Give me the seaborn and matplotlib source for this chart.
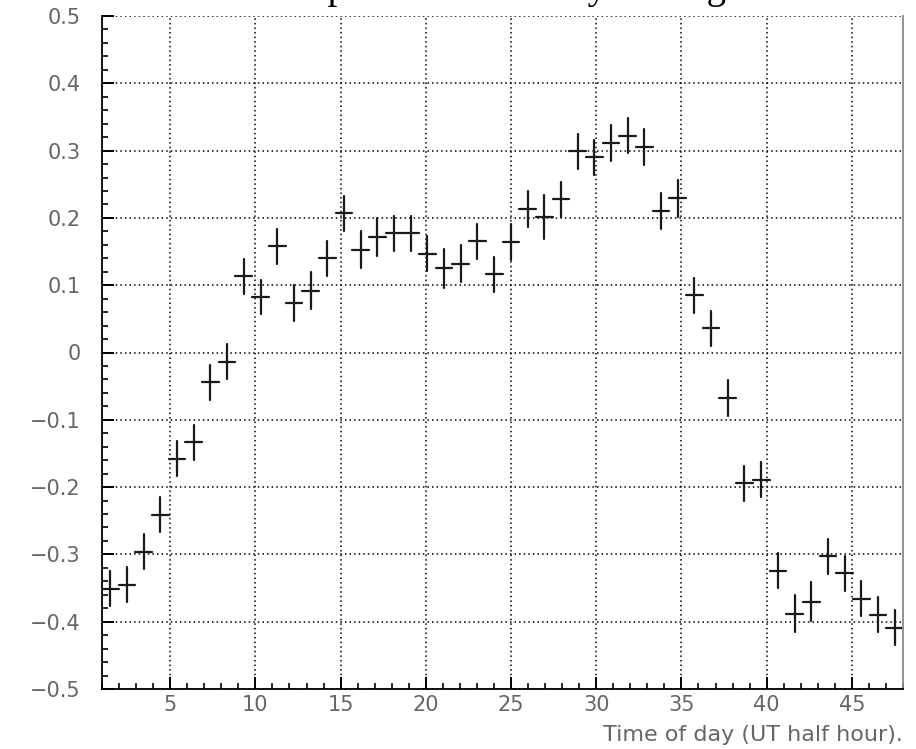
import numpy as np
import pandas as pd
import matplotlib
matplotlib.use("Agg")
import matplotlib.pyplot as plt
from matplotlib.ticker import MultipleLocator
import seaborn as sns
import seaborn.objects as so

# ---- data -------------------------------------------------------------
half_hour = list(range(1, 49))  # UT half-hour bins

asymmetry = [
    -0.351, -0.345, -0.296, -0.241, -0.158, -0.133, -0.044, -0.014,
    0.113, 0.082, 0.158, 0.074, 0.092, 0.140, 0.207, 0.153,
    0.172, 0.177, 0.177, 0.147, 0.125, 0.132, 0.165, 0.116,
    0.164, 0.213, 0.201, 0.228, 0.299, 0.290, 0.311, 0.322,
    0.305, 0.210, 0.229, 0.085, 0.036, -0.068, -0.194, -0.189,
    -0.324, -0.388, -0.370, -0.303, -0.328, -0.366, -0.390, -0.409,
]

asymmetry_err = [
    0.026, 0.026, 0.026, 0.026, 0.026, 0.026, 0.026, 0.026,
    0.026, 0.025, 0.026, 0.027, 0.027, 0.026, 0.026, 0.027,
    0.028, 0.026, 0.026, 0.026, 0.029, 0.027, 0.026, 0.026,
    0.027, 0.027, 0.033, 0.026, 0.026, 0.026, 0.027, 0.026,
    0.027, 0.027, 0.027, 0.026, 0.026, 0.027, 0.026, 0.026,
    0.026, 0.028, 0.029, 0.026, 0.026, 0.026, 0.026, 0.026,
]

x_ticks = [5, 10, 15, 20, 25, 30, 35, 40, 45]
x_tick_labels = ["5", "10", "15", "20", "25", "30", "35", "40", "45"]
y_ticks = [-0.5, -0.4, -0.3, -0.2, -0.1, 0.0, 0.1, 0.2, 0.3, 0.4, 0.5]
y_tick_labels = ["\u22120.5", "\u22120.4", "\u22120.3", "\u22120.2", "\u22120.1",
                 "0", "0.1", "0.2", "0.3", "0.4", "0.5"]

title_text = "Temperature Anomaly Average"
x_label = "Time of day (UT half hour)."

# ---- histogram binning: 48 bins spread over the axis range 1..48 -------
edges = np.linspace(1, 48, len(half_hour) + 1)
df = pd.DataFrame({
    "t": (edges[:-1] + edges[1:]) / 2,
    "t_lo": edges[:-1],
    "t_hi": edges[1:],
    "asym": asymmetry,
})
df["lo"] = df["asym"] - np.array(asymmetry_err)
df["hi"] = df["asym"] + np.array(asymmetry_err)

# ---- style --------------------------------------------------------------
sns.set_theme(style="white")
plt.rcParams["font.family"] = ["DejaVu Sans"]

INK = "#1a1a1a"
LABEL_GREY = "#666666"

fig = plt.figure(figsize=(9.16, 7.49), dpi=100)
fig.patch.set_facecolor("white")
ax = fig.add_axes([102 / 916, 1 - 689 / 749, (903 - 102) / 916, (689 - 16) / 749])

(
    so.Plot(df)
    .add(so.Range(color=INK, linewidth=1.6), x="t", ymin="lo", ymax="hi")
    .add(so.Range(color=INK, linewidth=1.6), y="asym", xmin="t_lo", xmax="t_hi", orient="y")
    .on(ax)
    .plot()
)

ax.set_facecolor("white")
ax.set_xlim(1, 48)
ax.set_ylim(-0.5, 0.5)
ax.set_xticks(x_ticks, labels=x_tick_labels)
ax.set_yticks(y_ticks, labels=y_tick_labels)
ax.xaxis.set_minor_locator(MultipleLocator(1))
ax.yaxis.set_minor_locator(MultipleLocator(0.02))

ax.grid(True, which="major", color="black", linestyle=(0, (1, 2.0)), linewidth=1.1)
ax.grid(False, which="minor")

for side in ("left", "bottom"):
    ax.spines[side].set_visible(True)
    ax.spines[side].set_color("black")
    ax.spines[side].set_linewidth(1.3)
ax.spines["right"].set_visible(True)
ax.spines["right"].set_color("#8a8a8a")
ax.spines["right"].set_linewidth(1.3)
ax.spines["top"].set_visible(False)

ax.tick_params(which="both", direction="in", color="black",
               top=False, right=False, left=True, bottom=True)
ax.tick_params(which="major", length=8.5, width=1.4)
ax.tick_params(which="minor", length=4, width=1.2)
ax.tick_params(axis="y", which="major", pad=15.5, labelsize=15, labelcolor=LABEL_GREY)
ax.tick_params(axis="x", which="major", pad=4.5, labelsize=15, labelcolor=LABEL_GREY)

ax.set_ylabel("")
ax.set_xlabel(x_label, loc="right", fontsize=16, color=LABEL_GREY, labelpad=7)

# large serif heading sitting just above the canvas
fig.text(259 / 916, 1.0 + 2 / 749, title_text, family="Liberation Serif", fontsize=28,
         color="black", ha="left", va="baseline")

fig.savefig("out.png", dpi=100, facecolor="white")
